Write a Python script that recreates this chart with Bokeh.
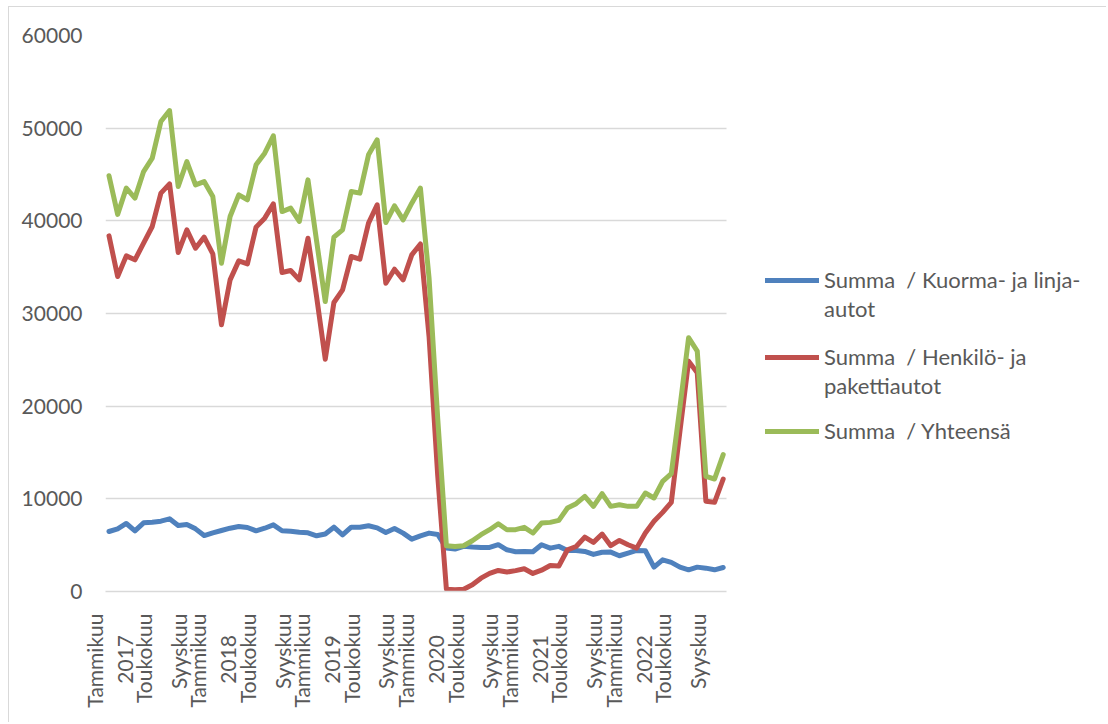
import math
from bokeh.plotting import figure
from bokeh.models import (Range1d, FixedTicker, Legend, LegendItem,
                          ColumnDataSource, NumeralTickFormatter, Grid)
from bokeh.embed import file_html
from bokeh.resources import INLINE

# ---- data (Jan 2017 .. Dec 2022, monthly) ----
kuorma = [6475, 6760, 7340, 6550, 7410, 7480, 7590, 7840, 7120, 7230, 6760, 6040,
          6330, 6580, 6830, 7010, 6910, 6550, 6830, 7190, 6550, 6510, 6400, 6330,
          6010, 6200, 6940, 6115, 6940, 6940, 7090, 6870, 6370, 6800, 6300, 5650,
          6010, 6300, 6150, 4680, 4580, 4870, 4790, 4760, 4760, 5050, 4500, 4290,
          4320, 4290, 5050, 4680, 4870, 4430, 4430, 4320, 4000, 4240, 4250, 3860,
          4140, 4430, 4400, 2630, 3420, 3140, 2630, 2340, 2630, 2520, 2340, 2590]
henkilo = [38380, 33990, 36220, 35790, 37590, 39390, 42990, 43990, 36580, 39030, 37050, 38240,
           36440, 28780, 33630, 35680, 35360, 39320, 40290, 41830, 34420, 34640, 33630, 38130,
           31800, 25070, 31190, 32550, 36150, 35860, 39750, 41730, 33270, 34780, 33630, 36330,
           37500, 27500, 12500, 250, 200, 250, 720, 1440, 1950, 2270, 2100, 2250,
           2450, 1950, 2300, 2800, 2750, 4500, 4860, 5870, 5300, 6200, 4940, 5510,
           5050, 4680, 6310, 7570, 8540, 9620, 17300, 24860, 23600, 9730, 9620, 12140]
yhteensa = [44860, 40700, 43530, 42450, 45320, 46760, 50720, 51900, 43700, 46400, 43880, 44240,
            42630, 35430, 40470, 42800, 42270, 46040, 47300, 49170, 41000, 41370, 39930, 44420,
            37800, 31290, 38240, 39030, 43170, 42990, 47120, 48740, 39820, 41620, 40110, 41910,
            43530, 33800, 18650, 4930, 4850, 4940, 5480, 6130, 6670, 7310, 6670, 6670,
            6920, 6310, 7390, 7460, 7680, 9010, 9480, 10270, 9190, 10560, 9190, 9370,
            9190, 9190, 10630, 10090, 11890, 12720, 19900, 27390, 25950, 12430, 12140, 14770]

tick_positions = [0, 4, 8, 12, 16, 20, 24, 28, 32, 36, 40, 44, 48, 52, 56, 60, 64, 68]
months = ["Tammikuu", "Toukokuu", "Syyskuu"]
years = ["2017", "2018", "2019", "2020", "2021", "2022"]
y_ticks = [0, 10000, 20000, 30000, 40000, 50000, 60000]

series_labels = [("Summa  / Kuorma- ja linja-", "autot"),
                 ("Summa  / Henkilö- ja", "pakettiautot"),
                 ("Summa  / Yhteensä", None)]
colors = ["#4F81BD", "#C0504D", "#9BBB59"]

FONT = "Lato"
TXT = "#595959"
GRID = "#D9D9D9"

# tick labels: month name, with the year as a second line under January
tick_labels = []
for i, t in enumerate(tick_positions):
    m = months[i % 3]
    if i % 3 == 0:
        tick_labels.append(m + "\n" + years[i // 3] + "\u00a0" * 4)
    else:
        tick_labels.append(m)

n = len(kuorma)
x = list(range(n))
src = ColumnDataSource(dict(x=x, k=kuorma, h=henkilo, t=yhteensa))

# layout: frame spans the full width; data occupy the left part, legend the right
PX_PER_MONTH = 8.6507
W, H = 1098, 716
MB_L, MB_R, MB_T, MB_B = 96, 8, 28, 132
FRAME_W = W - MB_L - MB_R
x_start = -3.5 / PX_PER_MONTH
x_end = x_start + FRAME_W / PX_PER_MONTH
data_end = (n - 1) + 3.3 / PX_PER_MONTH

p = figure(width=W, height=H, output_backend="svg", toolbar_location=None,
           x_range=Range1d(x_start, x_end), y_range=Range1d(0, 60000),
           min_border_left=MB_L, min_border_right=MB_R, min_border_top=MB_T,
           min_border_bottom=MB_B)
p.margin = (6, 0, 0, 8)
p.outline_line_color = None
p.background_fill_color = "white"
p.border_fill_color = "white"
p.styles = {"border-left": "1px solid #D9D9D9", "border-top": "1px solid #D9D9D9"}

p.xgrid.grid_line_color = None
yg = p.ygrid[0]
yg.ticker = FixedTicker(ticks=y_ticks)
if "cross_bounds" in Grid.properties():
    yg.cross_bounds = (x_start, data_end)
    yg.grid_line_color = GRID
    yg.grid_line_width = 1.4
else:
    yg.grid_line_color = None
    p.segment(x0=[x_start] * len(y_ticks), x1=[data_end] * len(y_ticks),
              y0=y_ticks, y1=y_ticks, line_color=GRID, line_width=1.4)

p.yaxis.ticker = FixedTicker(ticks=y_ticks)
p.yaxis.formatter = NumeralTickFormatter(format="0")
p.yaxis.axis_line_color = None
p.yaxis.major_tick_line_color = None
p.yaxis.minor_tick_line_color = None
p.yaxis.major_label_standoff = 17
p.yaxis.major_label_text_font = FONT
p.yaxis.major_label_text_font_size = "21px"
p.yaxis.major_label_text_color = TXT

p.xaxis.ticker = FixedTicker(ticks=tick_positions)
p.xaxis.bounds = (x_start, data_end)
p.xaxis.major_label_overrides = {t: l for t, l in zip(tick_positions, tick_labels)}
p.xaxis.major_label_orientation = math.pi / 2
p.xaxis.axis_line_color = GRID
p.xaxis.axis_line_width = 1.4
p.xaxis.major_tick_line_color = None
p.xaxis.minor_tick_line_color = None
p.xaxis.major_label_standoff = 16
p.xaxis.major_label_text_font = FONT
p.xaxis.major_label_text_font_size = "21px"
p.xaxis.major_label_text_color = TXT

rk = p.line("x", "k", source=src, line_color=colors[0], line_width=5,
            line_join="round", line_cap="round")
rh = p.line("x", "h", source=src, line_color=colors[1], line_width=5,
            line_join="round", line_cap="round")
rt = p.line("x", "t", source=src, line_color=colors[2], line_width=5,
            line_join="round", line_cap="round")
blank = p.line(x=[], y=[], line_alpha=0)

legend_pos = [(660, 268), (660, 191), (660, 146)]
for (first, second), r, loc in zip(series_labels, [rk, rh, rt], legend_pos):
    items = [LegendItem(label=first, renderers=[r])]
    if second:
        items.append(LegendItem(label=second, renderers=[blank]))
    lg = Legend(items=items, location=loc, padding=0, margin=0, spacing=0,
                border_line_alpha=0, background_fill_alpha=0,
                glyph_width=54, glyph_height=20, label_height=29, label_standoff=5,
                label_text_font=FONT, label_text_font_size="22px",
                label_text_color=TXT)
    p.add_layout(lg, "center")

open("out.html", "w").write(file_html(p, INLINE))
